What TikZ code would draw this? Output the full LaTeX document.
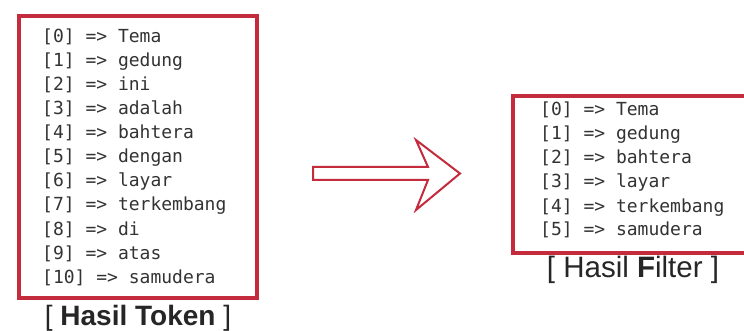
\documentclass[tikz,border=0pt]{standalone}
\usepackage{fontspec}
\setmainfont{Liberation Sans}
\newfontfamily\codefont{DejaVu Sans Mono}
\definecolor{boxred}{HTML}{C42B3C}
\definecolor{codegray}{HTML}{333333}
\begin{document}
\begin{tikzpicture}[x=1pt,y=-1pt,
  codeline/.style={anchor=west, inner sep=0pt, text height=0.8em, text depth=0.2em,
    font=\codefont\fontsize{18}{20}\selectfont, text=codegray},
  frame/.style={draw=boxred, line width=3.5pt, inner sep=0pt},
  caption/.style={text=black!85, inner sep=0pt},
  arrowline/.style={draw=boxred, line width=2pt, fill=white, line join=miter}]
\useasboundingbox (0,0) rectangle (744,331);
\clip (0,0) rectangle (744,331);
\fill[white] (0,0) rectangle (744,331);
% left box
\node[frame, minimum width=238pt, minimum height=282pt] (tokbox) at (138,157) {};
\foreach \w [count=\i from 0] in {Tema,gedung,ini,adalah,bahtera,dengan,layar,terkembang,di,atas,samudera}
  \node[codeline] (tok\i) at (42,40+24*\i) {[\i] => \w};
\node[caption, font=\fontsize{28}{30}\selectfont] (captok) at (138,318) {[ \textbf{Hasil Token} ]};
% right box (open to the right edge)
\node[frame, minimum width=250pt, minimum height=157pt] (filbox) at (638,174.5) {};
\foreach \w [count=\i from 0] in {Tema,gedung,bahtera,layar,terkembang,samudera}
  \node[codeline] (fil\i) at (540,113+24*\i) {[\i] => \w};
\node[caption, font=\fontsize{29.5}{31}\selectfont] (capfil) at (633,270) {[ Hasil \textbf{F}ilter ]};
% arrow
\coordinate (a1) at (313,167);
\coordinate (a2) at (428,167);
\coordinate (a3) at (416,140);
\coordinate (a4) at (460,173.5);
\coordinate (a5) at (416,210);
\coordinate (a6) at (428,180);
\coordinate (a7) at (313,180);
\draw[arrowline] (a1) -- (a2) -- (a3) -- (a4) -- (a5) -- (a6) -- (a7) -- cycle;
\end{tikzpicture}
\end{document}
